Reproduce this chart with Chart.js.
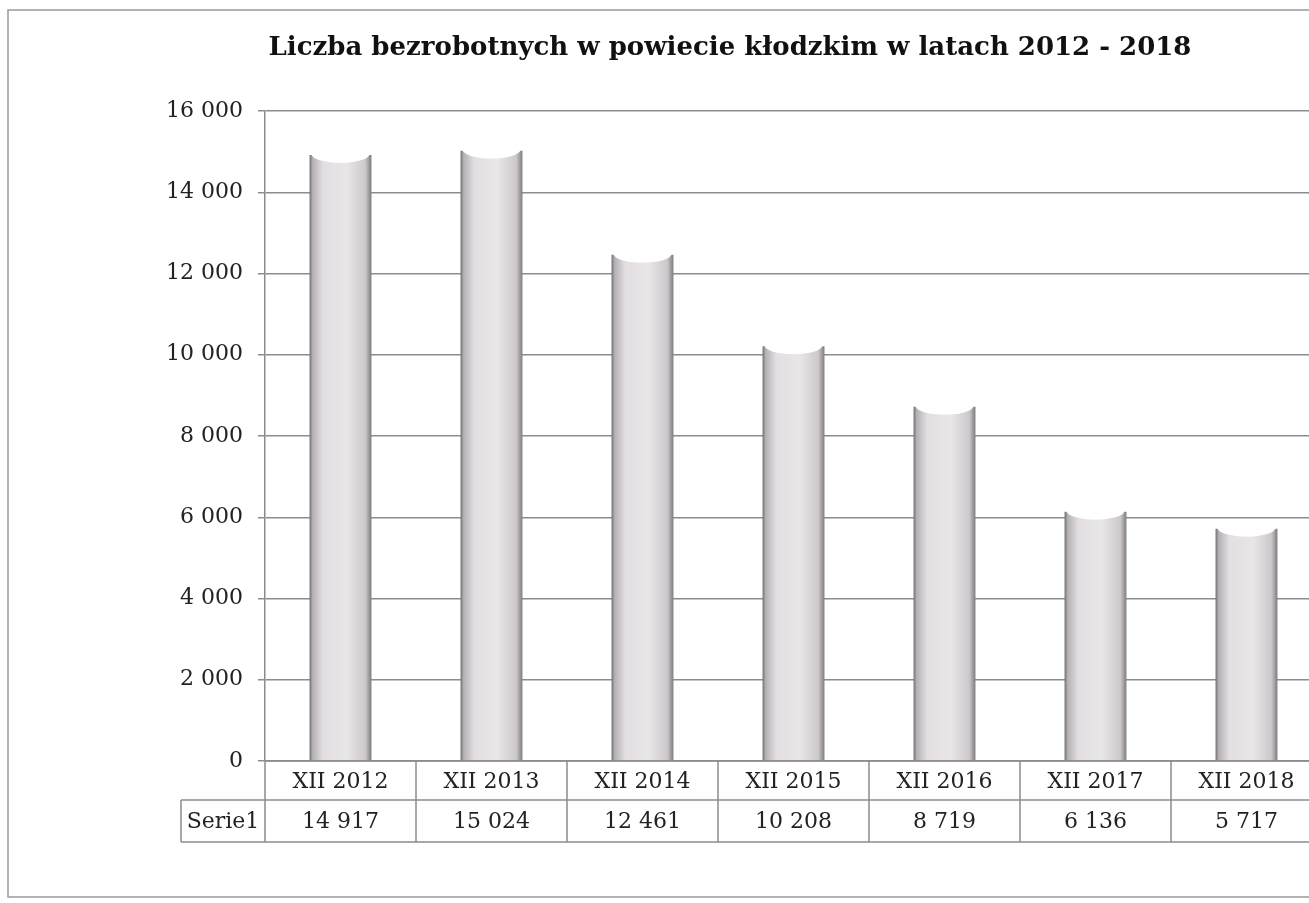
<!DOCTYPE html>
<html>
<head>
<meta charset="utf-8">
<script src="https://cdn.jsdelivr.net/npm/chart.js@4"></script>
<style>
html,body{margin:0;padding:0;background:#fff;overflow:hidden;}
#wrap{position:relative;width:1325px;height:903px;}
</style>
</head>
<body>
<div id="wrap"><canvas id="c"></canvas></div>
<script>
const titleText = 'Liczba bezrobotnych w powiecie kłodzkim w latach 2012 - 2018';
const categories = ['XII 2012','XII 2013','XII 2014','XII 2015','XII 2016','XII 2017','XII 2018'];
const seriesName = 'Serie1';
const values = [14917, 15024, 12461, 10208, 8719, 6136, 5717];
const yTicks = [0, 2000, 4000, 6000, 8000, 10000, 12000, 14000, 16000];

const fmt = v => String(v).replace(/\B(?=(\d{3})+(?!\d))/g, ' ');
const FONT = '"DejaVu Serif", "Liberation Serif", serif';
const BAR_FRAC = 0.41;

function barGradient(ctx) {
  const chart = ctx.chart;
  if (!chart.chartArea) return '#ddd';
  const xs = chart.scales.x;
  const catW = (chart.chartArea.right - chart.chartArea.left) / categories.length;
  const w = catW * BAR_FRAC;
  const cx = xs.getPixelForValue(ctx.dataIndex);
  const g = chart.ctx.createLinearGradient(cx - w/2, 0, cx + w/2, 0);
  g.addColorStop(0, '#6f6e72');
  g.addColorStop(0.05, '#b4b0b3');
  g.addColorStop(0.22, '#e2dee1');
  g.addColorStop(0.6, '#e9e6e8');
  g.addColorStop(0.9, '#cdc8cb');
  g.addColorStop(1, '#7e7c80');
  return g;
}

const framePlugin = {
  id: 'frame',
  beforeDraw(chart) {
    const c = chart.ctx;
    c.save();
    c.fillStyle = '#fff';
    c.fillRect(0, 0, chart.width, chart.height);
    c.strokeStyle = '#9a9a9a';
    c.lineWidth = 1.5;
    c.strokeRect(8, 10, 1320, 887);
    c.fillStyle = '#111';
    c.font = 'bold 26px ' + FONT;
    c.textAlign = 'center';
    c.textBaseline = 'middle';
    c.fillText(titleText, 730, 48);
    c.restore();
  },
  afterDatasetsDraw(chart) {
    const c = chart.ctx;
    const meta = chart.getDatasetMeta(0);
    c.save();
    meta.data.forEach(el => {
      c.beginPath();
      c.ellipse(el.x, el.y - 1, el.width/2 - 2, 9, 0, 0, Math.PI);
      c.fillStyle = '#fff';
      c.fill();
    });
    c.restore();
  },
  afterDraw(chart) {
    const c = chart.ctx;
    const a = chart.chartArea;
    const n = categories.length;
    const catW = (a.right - a.left) / n;
    const r1 = a.bottom + 39, r2 = a.bottom + 81;
    c.save();
    c.strokeStyle = '#8c8c8c';
    c.lineWidth = 1.5;
    c.beginPath();
    c.moveTo(a.left, a.bottom); c.lineTo(a.right, a.bottom);
    c.moveTo(181, r1); c.lineTo(a.right, r1);
    c.moveTo(181, r2); c.lineTo(a.right, r2);
    c.moveTo(181, r1); c.lineTo(181, r2);
    for (let i = 0; i <= n; i++) {
      const x = a.left + i * catW;
      c.moveTo(x, a.bottom); c.lineTo(x, r2);
    }
    c.stroke();
    c.fillStyle = '#222';
    c.font = '22px ' + FONT;
    c.textAlign = 'center';
    c.textBaseline = 'middle';
    c.fillText(seriesName, (181 + a.left) / 2, (r1 + r2) / 2 + 1);
    values.forEach((v, i) => {
      c.fillText(fmt(v), a.left + (i + 0.5) * catW, (r1 + r2) / 2 + 1);
    });
    c.restore();
  }
};

new Chart(document.getElementById('c'), {
  type: 'bar',
  data: {
    labels: categories,
    datasets: [{
      label: seriesName,
      data: values,
      backgroundColor: barGradient,
      borderWidth: 0,
      categoryPercentage: 1,
      barPercentage: BAR_FRAC
    }]
  },
  options: {
    responsive: true,
    maintainAspectRatio: false,
    animation: false,
    devicePixelRatio: 1,
    layout: { padding: { top: 111, left: 0, right: 3, bottom: 102 } },
    plugins: { legend: { display: false }, title: { display: false }, tooltip: { enabled: false } },
    scales: {
      x: {
        grid: { display: false },
        border: { display: false },
        ticks: { color: '#222', font: { family: FONT, size: 22 }, padding: 0, maxRotation: 0 },
        afterFit(s) { s.height = 40; }
      },
      y: {
        min: 0, max: 16000,
        afterBuildTicks(s) { s.ticks = yTicks.map(v => ({ value: v })); },
        grid: { color: '#8c8c8c', lineWidth: 1.5, tickLength: 7, drawTicks: true },
        border: { display: true, color: '#8c8c8c', width: 1.5 },
        ticks: { color: '#222', font: { family: FONT, size: 22 }, padding: 15, callback: v => fmt(v) },
        afterFit(s) { s.width = 265; }
      }
    }
  },
  plugins: [framePlugin]
});
</script>
</body>
</html>
